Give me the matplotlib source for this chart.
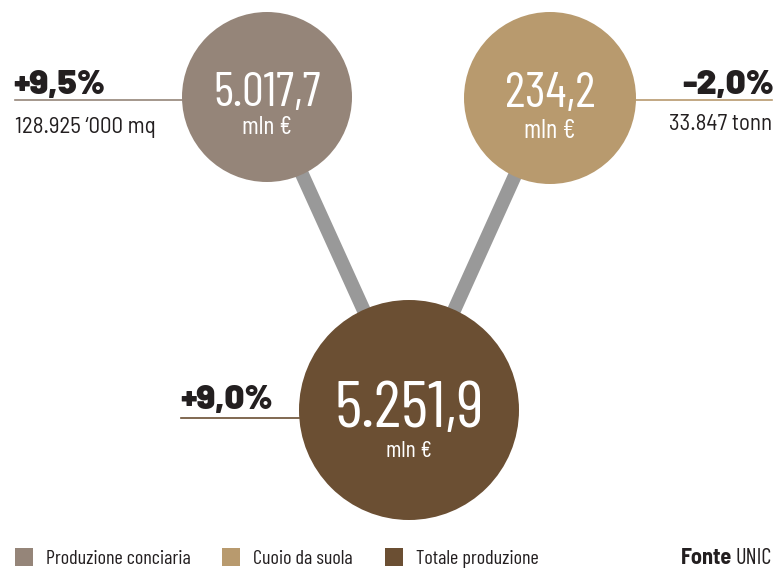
import matplotlib
matplotlib.use("Agg")
import matplotlib.pyplot as plt
from matplotlib.patches import Circle, Rectangle

BIG = ["Barlow Condensed", "DejaVu Sans"]
SMALL = ["Barlow Semi Condensed", "Barlow Condensed", "DejaVu Sans"]
WIDE = ["Barlow", "Barlow Semi Condensed", "DejaVu Sans"]
plt.rcParams['font.family'] = SMALL

# Data
categories = ["Produzione conciaria", "Cuoio da suola", "Totale produzione"]
values = ["5.017,7", "234,2", "5.251,9"]
units = ["mln €", "mln €", "mln €"]
changes = ["+9,5%", "-2,0%", "+9,0%"]
volumes = ["128.925 \u2018000 mq", "33.847 tonn", ""]
colors = ["#958579", "#B89A6E", "#6B4F33"]
source = ("Fonte", "UNIC")

W, H = 777, 571
fig = plt.figure(figsize=(W / 100, H / 100), dpi=100)
ax = fig.add_axes([0, 0, 1, 1])
ax.set_xlim(0, W)
ax.set_ylim(H, 0)
ax.axis("off")

# node layout (pixels)
centers = [(267, 97), (550, 98), (409, 410)]
radii = [85, 86, 110]

# connectors from each component to the total
for i in (0, 1):
    (x0, y0), (x1, y1) = centers[i], centers[2]
    ax.plot([x0, x1], [y0, y1], color="#999999", lw=10,
            solid_capstyle="butt", zorder=1)

for (cx, cy), r, c in zip(centers, radii, colors):
    ax.add_patch(Circle((cx, cy), r, facecolor=c, edgecolor="none", zorder=2))

# values inside circles (baselines in pixels)
val_sizes = [35, 36, 48]
unit_sizes = [18.5, 19, 17]
val_base = [106, 107, 427]
unit_base = [134, 138, 457]
for (cx, cy), v, u, vs, us, vb, ub in zip(centers, values, units,
                                         val_sizes, unit_sizes, val_base, unit_base):
    ax.text(cx, vb, v, color="white", fontsize=vs, ha="center",
            va="baseline", family=BIG, zorder=3)
    ax.text(cx, ub, u, color="white", fontsize=us, ha="center",
            va="baseline", family=BIG, zorder=3)

dark = "#231F20"
pct_kw = dict(fontsize=25, fontweight=900, color=dark, va="baseline", family=WIDE)
vol_kw = dict(fontsize=16.5, color=dark, va="baseline")

# left annotation: Produzione conciaria
ax.plot([15, centers[0][0] - radii[0]], [100, 100], color=colors[0], lw=1.2, zorder=1)
ax.text(13, 94, changes[0], ha="left", **pct_kw)
ax.text(15, 133, volumes[0], ha="left", **vol_kw)

# right annotation: Cuoio da suola
ax.plot([centers[1][0] + radii[1], 772], [100, 100], color=colors[1], lw=1.2, zorder=1)
ax.text(774, 94, changes[1], ha="right", **pct_kw)
ax.text(772, 130, volumes[1], ha="right", **vol_kw)

# total annotation
ax.plot([181, centers[2][0] - radii[2]], [418, 418], color=colors[2], lw=1.2, zorder=1)
ax.text(180, 409, changes[2], ha="left", **pct_kw)

# legend
leg_x = [15, 222, 385]
for x, c, lab in zip(leg_x, colors, categories):
    ax.add_patch(Rectangle((x, 548), 18, 18, facecolor=c, edgecolor="none"))
    ax.text(x + 31, 564, lab, fontsize=14.5, color=dark, ha="left",
            va="baseline", family=BIG)

t = ax.text(772, 564, source[1], fontsize=16, color=dark, ha="right",
            va="baseline", family=BIG)
fig.canvas.draw()
bb = t.get_window_extent()
x_left = ax.transData.inverted().transform((bb.x0, bb.y0))[0]
ax.text(x_left - 4, 564, source[0], fontsize=16, fontweight="bold", color=dark,
        ha="right", va="baseline", family=SMALL)

fig.savefig("out.png", dpi=100)
